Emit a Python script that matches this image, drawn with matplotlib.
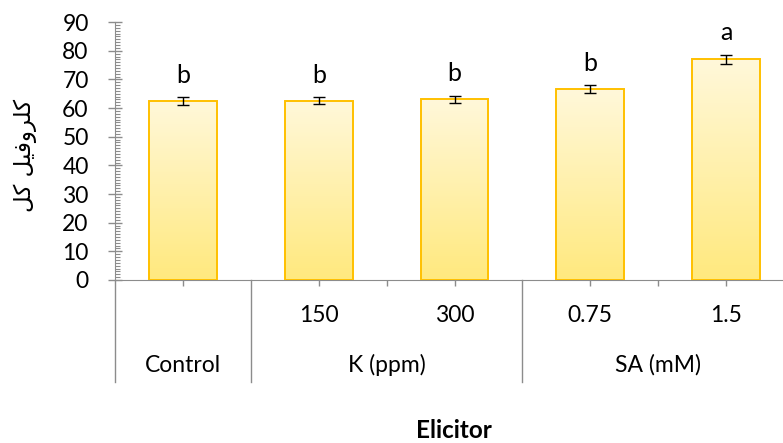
import numpy as np
import matplotlib.pyplot as plt
from matplotlib.colors import LinearSegmentedColormap
from matplotlib.transforms import blended_transform_factory

plt.rcParams['font.family'] = ['Lato', 'DejaVu Sans']

levels = ["", "150", "300", "0.75", "1.5"]
group_names = ["Control", "K (ppm)", "SA (mM)"]
group_sizes = [1, 2, 2]
values = [62.5, 62.6, 63.0, 66.5, 77.0]
errors = [1.3, 1.3, 1.3, 1.4, 1.6]
letters = ["b", "b", "b", "b", "a"]
# Persian y label, shaped with presentation forms in visual order
ylabel = "\uFEDE\uFB90 \uFEDE\uFBFF\uFED3\uFEED\uFEAE\uFEE0\uFB90"

grey = '#8c8c8c'
fig = plt.figure(figsize=(7.83, 4.43), dpi=100)
ax = fig.add_axes([0.147, 0.368, 0.867, 0.582])

x = np.arange(len(values))
bars = ax.bar(x, values, width=0.5, facecolor='none', edgecolor='#FFC000',
              linewidth=1.4, zorder=3)
cmap = LinearSegmentedColormap.from_list('yel', ['#FFE97E', '#FFF8DA'])
grad = np.linspace(0, 1, 256).reshape(-1, 1)
for b in bars:
    im = ax.imshow(grad, cmap=cmap, origin='lower', aspect='auto', zorder=2,
                   extent=[b.get_x(), b.get_x() + b.get_width(), 0, b.get_height()])
    im.set_clip_path(b)

ax.errorbar(x, values, yerr=errors, fmt='none', ecolor='black', elinewidth=1,
            capsize=4.5, capthick=1, zorder=4)
for xi, v, e, t in zip(x, values, errors, letters):
    ax.text(xi, v + e + 5, t, ha='center', va='baseline', fontsize=18)

ax.set_xlim(-0.5, len(values) - 0.5)
ax.set_ylim(0, 90)
ax.set_yticks(np.arange(0, 91, 10))
ax.set_yticks(np.arange(0, 91, 1), minor=True)
ax.tick_params(axis='y', which='major', direction='inout', length=10, width=1,
               color=grey, labelsize=16.5, pad=14)
ax.tick_params(axis='y', which='minor', direction='in', length=3.5, width=0.8,
               color=grey)
for s in ['top', 'right']:
    ax.spines[s].set_visible(False)
for s in ['left', 'bottom']:
    ax.spines[s].set_color(grey)

# category ticks and multi-level labels
bounds = np.concatenate([[0], np.cumsum(group_sizes)]) - 0.5
inner = [b for i, n in enumerate(group_sizes) for b in
         (bounds[i] + np.arange(1, n))]
ax.set_xticks(list(x) + inner)
ax.set_xticklabels([])
ax.tick_params(axis='x', direction='out', length=4, width=1, color=grey)

tr = blended_transform_factory(ax.transData, ax.transAxes)
for xi, lab in zip(x, levels):
    ax.text(xi, -0.136, lab, transform=tr, ha='center', va='center', fontsize=16.5)
for i, name in enumerate(group_names):
    c = (bounds[i] + bounds[i + 1]) / 2
    ax.text(c, -0.33, name, transform=tr, ha='center', va='center', fontsize=16.5)
for bd in bounds:
    ax.plot([bd, bd], [0, -0.395], transform=tr, color=grey, lw=1, clip_on=False)

fig.text(454 / 783, 1 - 431 / 443, "Elicitor", ha='center', va='center',
         fontsize=17.5, fontweight='bold')
fig.text(25 / 783, 1 - 155 / 443, ylabel, rotation=90, ha='center', va='center',
         fontsize=16.5, family=['DejaVu Sans'])

fig.savefig('out.png', dpi=100)
